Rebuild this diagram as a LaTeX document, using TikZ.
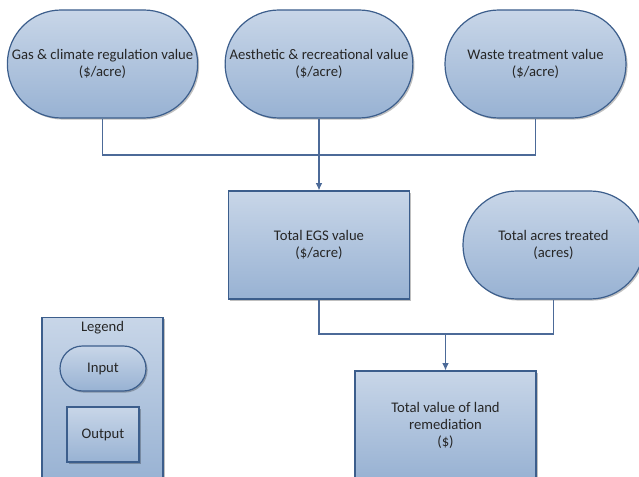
\documentclass[tikz,border=0pt]{standalone}
\usepackage{fontspec}
\setmainfont{Carlito}
\usetikzlibrary{arrows.meta,shadows}

\definecolor{filltop}{RGB}{200,214,232}
\definecolor{fillbot}{RGB}{152,178,211}
\definecolor{edge}{RGB}{60,94,140}
\definecolor{wire}{RGB}{76,106,152}
\definecolor{wireshadow}{RGB}{175,175,175}

\tikzset{
  box/.style={draw=edge, line width=0.9pt, top color=filltop, bottom color=fillbot,
    align=center, text=black!85, font=\fontsize{11}{12.75}\selectfont,
    drop shadow={shadow xshift=1.2pt, shadow yshift=-1.2pt, fill=black, opacity=0.25}},
  inputbox/.style={box, rectangle, rounded corners=#1},
  outputbox/.style={box, rectangle},
  wire/.style={draw=wire, line width=0.8pt},
  wireback/.style={draw=wireshadow, line width=1.2pt},
  tip/.style={-{Latex[length=5.5pt,width=5pt]}},
}

\begin{document}
\begin{tikzpicture}[x=0.75pt,y=-0.75pt]
  \useasboundingbox (0,0) rectangle (639,477);
  \clip (0,0) rectangle (639,477);

  % input value nodes (top row)
  \node[inputbox=40.4pt, minimum width=135.75pt, minimum height=81pt] (gas) at (102.5,64)
    {Gas \& climate regulation value\\(\$/acre)};
  \node[inputbox=40.4pt, minimum width=135.75pt, minimum height=81pt] (aes) at (319,64)
    {Aesthetic \& recreational value\\(\$/acre)};
  \node[inputbox=40.4pt, minimum width=135.75pt, minimum height=81pt] (waste) at (535.5,64)
    {Waste treatment value\\(\$/acre)};

  % middle row
  \node[outputbox, minimum width=135.75pt, minimum height=81pt] (egs) at (319,245)
    {Total EGS value\\(\$/acre)};
  \node[inputbox=40.4pt, minimum width=135.75pt, minimum height=81pt] (acres) at (553.5,245)
    {Total acres treated\\(acres)};

  % result
  \node[outputbox, minimum width=135.75pt, minimum height=81pt] (total) at (445.5,425)
    {Total value of land\\remediation\\(\$)};

  % legend
  \node[outputbox, minimum width=90.75pt, minimum height=124pt] (legend) at (102.5,400) {};
  \node[font=\fontsize{11}{12.75}\selectfont, text=black!85] (legtitle) at (102.5,327.5) {Legend};
  \node[inputbox=16.9pt, minimum width=64.5pt, minimum height=33.75pt] (leginput) at (103,368.5) {Input};
  \node[outputbox, minimum width=54pt, minimum height=41.25pt] (legoutput) at (103,434.5) {Output};

  % junctions
  \coordinate (j1) at (319,155);
  \coordinate (j2) at (445.5,334);

  % connector shadows
  \begin{scope}[xshift=1pt,yshift=-1pt]
    \draw[wireback] (gas.south) |- (j1) -| (waste.south);
    \draw[wireback] (egs.south) |- (j2) -| (acres.south);
  \end{scope}

  % connectors
  \draw[wire] (gas.south) |- (j1) -| (waste.south);
  \draw[wire, tip] (aes.south) -- (egs.north);
  \draw[wire] (egs.south) |- (j2) -| (acres.south);
  \draw[wire, tip] (j2) -- (total.north);
\end{tikzpicture}
\end{document}
